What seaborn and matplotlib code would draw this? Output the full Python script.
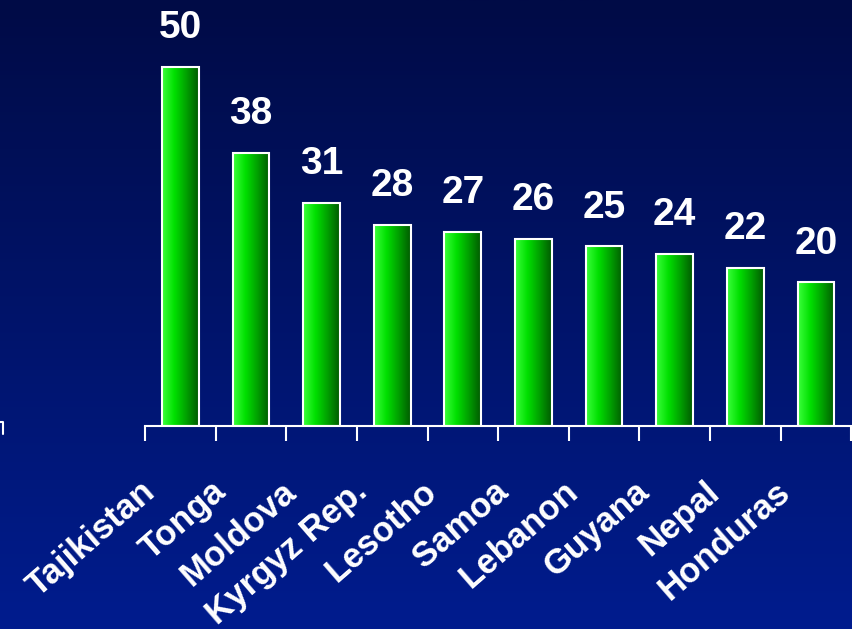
import numpy as np
import pandas as pd
import matplotlib
matplotlib.use('Agg')
import matplotlib.pyplot as plt
import matplotlib.transforms as mtransforms
import seaborn as sns
from matplotlib.colors import LinearSegmentedColormap
from matplotlib.lines import Line2D

countries = ['Tajikistan', 'Tonga', 'Moldova', 'Kyrgyz Rep.', 'Lesotho',
             'Samoa', 'Lebanon', 'Guyana', 'Nepal', 'Honduras']
values = [50, 38, 31, 28, 27, 26, 25, 24, 22, 20]

df = pd.DataFrame({'country': countries, 'value': values})

sns.set_style('white')
plt.rcParams['font.family'] = ['Liberation Sans', 'DejaVu Sans']

fig = plt.figure(figsize=(8.53, 6.29), dpi=100)

# background gradient (dark navy at top -> brighter blue at bottom)
bg = fig.add_axes([0, 0, 1, 1], zorder=-10)
bg_cmap = LinearSegmentedColormap.from_list('bg', ['#000b46', '#001c8e'])
bg.imshow(np.linspace(0, 1, 256).reshape(-1, 1), aspect='auto', cmap=bg_cmap,
          extent=[0, 1, 0, 1], origin='upper')
bg.set_axis_off()

ax = fig.add_axes([0.170, 0.3227, 0.828, 0.6773])
ax.patch.set_alpha(0)

sns.barplot(data=df, x='country', y='value', ax=ax, width=0.52,
            color='#00cc00', edgecolor='white', linewidth=1.5)

ax.set_xlim(-0.5, len(countries) - 0.5)
ax.set_ylim(0, 59.3)

# green gradient inside each bar
bar_cmap = LinearSegmentedColormap.from_list('bar', ['#3cff3c', '#00e000', '#00a000', '#005a00'])
grad = np.linspace(0, 1, 128).reshape(1, -1)
for p in ax.patches:
    x0, y0 = p.get_x(), p.get_y()
    w, h = p.get_width(), p.get_height()
    im = ax.imshow(grad, extent=[x0, x0 + w, y0, y0 + h], aspect='auto',
                   cmap=bar_cmap, zorder=p.get_zorder() + 0.1)
    im.set_clip_path(p)
    p.set_facecolor('none')
    p.set_zorder(p.get_zorder() + 0.2)

ax.bar_label(ax.containers[0], labels=[str(v) for v in values], padding=15,
             color='white', fontsize=28, fontweight='bold')

for s in ['top', 'right', 'left']:
    ax.spines[s].set_visible(False)
ax.spines['bottom'].set_color('white')
ax.spines['bottom'].set_linewidth(1.5)

ax.set_yticks([])
ax.set_xticks(np.arange(len(countries)))
ax.set_xticks(np.arange(-0.5, len(countries)), minor=True)
ax.tick_params(axis='x', which='major', bottom=False, length=0, pad=44)
ax.tick_params(axis='x', which='minor', bottom=True, length=11, width=1.5,
               color='white', direction='out')
ax.set_xticklabels(countries, rotation=41, ha='right', rotation_mode='anchor',
                   va='center', color='white', fontsize=25, fontweight='bold')
shift = mtransforms.ScaledTranslation(-30 / 100, 0, fig.dpi_scale_trans)
for lbl in ax.get_xticklabels():
    lbl.set_transform(lbl.get_transform() + shift)
ax.set_xlabel('')
ax.set_ylabel('')

# stray axis fragment at the left edge
fig.add_artist(Line2D([0, 0.004, 0.004], [0.329, 0.329, 0.310],
                      transform=fig.transFigure, color='white', lw=1.5))

fig.savefig('out.png', dpi=100)
